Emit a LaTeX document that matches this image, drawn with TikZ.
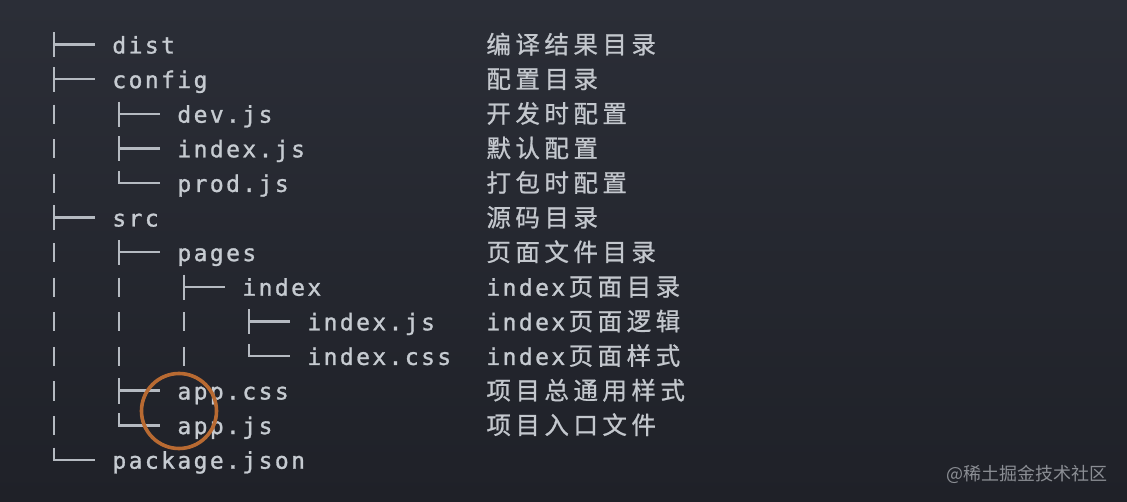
\documentclass[tikz,border=0pt]{standalone}
\usepackage{fontspec}
\setmonofont[FakeBold=1.2]{DejaVu Sans Mono}
\newfontfamily\cjkf[FakeBold=0.8]{Noto Sans CJK SC}
\newfontfamily\wmf{Noto Sans CJK SC}
\newlength\chw
\def\sploop#1{\ifx\relax#1\else\makebox[\chw][c]{#1}\expandafter\sploop\fi}
\newcommand\en[1]{{\ttfamily\fontsize{23}{26}\selectfont\setlength\chw{16.25pt}\sploop#1\relax}}
\newcommand\zh[1]{{\cjkf\fontsize{24.5}{27}\selectfont\setlength\chw{29pt}\sploop#1\relax}}
\definecolor{bgtop}{HTML}{2B2E37}
\definecolor{bgbot}{HTML}{1F2128}
\definecolor{txtc}{HTML}{C6CBD1}
\definecolor{treec}{HTML}{B5BAC1}
\definecolor{cjkc}{HTML}{C3C7CD}
\definecolor{ringc}{HTML}{B86A32}
\definecolor{wmc}{HTML}{8B8E94}
\tikzset{
  txt/.style={anchor=base west, inner sep=0pt, text=txtc},
  zhtxt/.style={anchor=base west, inner sep=0pt, text=cjkc},
  tree/.style={draw=treec, line width=2.4pt},
  ring/.style={draw=ringc, line width=3.6pt},
}
\newcommand\Tee[2]{\draw[tree] ({54+65*#1},{53.5+34.6*#2-21}) -- ++(0,25) ({54+65*#1},{53.5+34.6*#2-8.8}) -- ++(41,0);}
\newcommand\Ell[2]{\draw[tree] ({54+65*#1},{53.5+34.6*#2-21}) -- ++(0,12.2) -- ++(41,0);}
\newcommand\Bar[2]{\draw[tree] ({54+65*#1},{53.5+34.6*#2-18}) -- ++(0,19);}
\begin{document}
\begin{tikzpicture}[x=1pt,y=-1pt]
\useasboundingbox (0,0) rectangle (1127,502);
\shade[top color=bgtop, bottom color=bgbot] (0,0) rectangle (1127,502);
% tree glyphs
\Tee{0}{0}
\Tee{0}{1}
\Bar{0}{2}\Tee{1}{2}
\Bar{0}{3}\Tee{1}{3}
\Bar{0}{4}\Ell{1}{4}
\Tee{0}{5}
\Bar{0}{6}\Tee{1}{6}
\Bar{0}{7}\Bar{1}{7}\Tee{2}{7}
\Bar{0}{8}\Bar{1}{8}\Bar{2}{8}\Tee{3}{8}
\Bar{0}{9}\Bar{1}{9}\Bar{2}{9}\Ell{3}{9}
\Bar{0}{10}\Tee{1}{10}
\Bar{0}{11}\Ell{1}{11}
\Ell{0}{12}
% file names
\node[txt] (n0) at (111,53.5) {\en{dist}};
\node[txt] (n1) at (111,88.1) {\en{config}};
\node[txt] (n2) at (176,122.7) {\en{dev.js}};
\node[txt] (n3) at (176,157.3) {\en{index.js}};
\node[txt] (n4) at (176,191.9) {\en{prod.js}};
\node[txt] (n5) at (111,226.5) {\en{src}};
\node[txt] (n6) at (176,261.1) {\en{pages}};
\node[txt] (n7) at (241,295.7) {\en{index}};
\node[txt] (n8) at (306,330.3) {\en{index.js}};
\node[txt] (n9) at (306,364.9) {\en{index.css}};
\node[txt] (n10) at (176,399.5) {\en{app.css}};
\node[txt] (n11) at (176,434.1) {\en{app.js}};
\node[txt] (n12) at (111,468.7) {\en{package.json}};
% descriptions
\node[zhtxt] (c0) at (484,53.5) {\zh{编译结果目录}};
\node[zhtxt] (c1) at (484,88.1) {\zh{配置目录}};
\node[zhtxt] (c2) at (484,122.7) {\zh{开发时配置}};
\node[zhtxt] (c3) at (484,157.3) {\zh{默认配置}};
\node[zhtxt] (c4) at (484,191.9) {\zh{打包时配置}};
\node[zhtxt] (c5) at (484,226.5) {\zh{源码目录}};
\node[zhtxt] (c6) at (484,261.1) {\zh{页面文件目录}};
\node[zhtxt] (c7) at (485,295.7) {\textcolor{txtc}{\en{index}}\zh{页面目录}};
\node[zhtxt] (c8) at (485,330.3) {\textcolor{txtc}{\en{index}}\zh{页面逻辑}};
\node[zhtxt] (c9) at (485,364.9) {\textcolor{txtc}{\en{index}}\zh{页面样式}};
\node[zhtxt] (c10) at (484,399.5) {\zh{项目总通用样式}};
\node[zhtxt] (c11) at (484,434.1) {\zh{项目入口文件}};
% highlight ring
\draw[ring] (179,411) circle (37.5);
% watermark
\node[anchor=base east, inner sep=0pt, text=wmc, font=\wmf\fontsize{18}{20}\selectfont] (wm) at (1108,480) {@稀土掘金技术社区};
\end{tikzpicture}
\end{document}
